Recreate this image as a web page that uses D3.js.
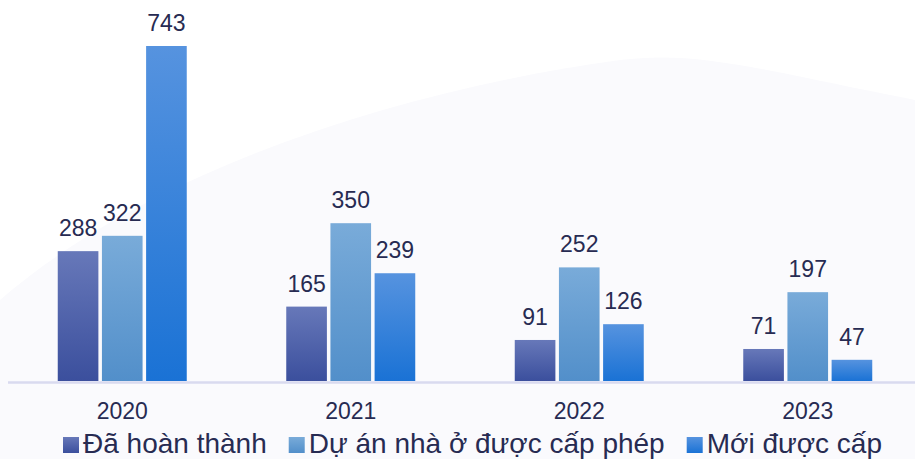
<!DOCTYPE html>
<html>
<head>
<meta charset="utf-8">
<script src="https://cdn.jsdelivr.net/npm/d3@7"></script>
<style>
  html, body { margin: 0; padding: 0; background: #ffffff; }
  svg { display: block; font-family: "Liberation Sans", Arial, sans-serif; }
</style>
</head>
<body>
<div id="chart"></div>
<script>
// Data
var years = ["2020", "2021", "2022", "2023"];
var seriesNames = ["Đã hoàn thành", "Dự án nhà ở được cấp phép", "Mới được cấp"];
var completed = [288, 165, 91, 71];
var licensed = [322, 350, 252, 197];
var newlyGranted = [743, 239, 126, 47];

var seriesValues = [completed, licensed, newlyGranted];

// Chart dimensions
var width = 915, height = 459;
var baseline = 381;
var textColor = "#272b52";

var svg = d3.select("#chart")
  .append("svg")
  .attr("width", width)
  .attr("height", height);

// Gradients for the three series (top -> bottom)
var gradColors = [
  ["#6778b9", "#3b4f9d"],
  ["#79abd9", "#528fca"],
  ["#5693df", "#1a72d5"]
];
var defs = svg.append("defs");
gradColors.forEach(function(c, i) {
  var g = defs.append("linearGradient")
    .attr("id", "grad" + i)
    .attr("x1", 0).attr("y1", 0).attr("x2", 0).attr("y2", 1);
  g.append("stop").attr("offset", "0%").attr("stop-color", c[0]);
  g.append("stop").attr("offset", "100%").attr("stop-color", c[1]);
});

// faint background shapes
svg.append("path")
  .attr("d", "M0,300 C150,170 400,90 620,60 C700,50 760,70 915,100 L915,459 L0,459 Z")
  .attr("fill", "#fafafd");

// Scales
var x = d3.scaleBand()
  .domain(years)
  .range([8, 922]);

var xInner = d3.scaleBand()
  .domain(d3.range(seriesNames.length))
  .range([49.75, 178.75])
  .paddingInner(0.08);

var y = d3.scaleLinear()
  .domain([0, 743])
  .range([baseline, 46]);

// Baseline axis line
svg.append("line")
  .attr("x1", 8).attr("x2", width)
  .attr("y1", baseline + 1.5).attr("y2", baseline + 1.5)
  .attr("stroke", "#d9daef")
  .attr("stroke-width", 2.5);

// Bars
var rows = [];
years.forEach(function(yr, i) {
  seriesValues.forEach(function(vals, s) {
    rows.push({year: yr, s: s, value: vals[i]});
  });
});

svg.append("g")
  .selectAll("rect")
  .data(rows)
  .join("rect")
    .attr("x", function(d) { return x(d.year) + xInner(d.s); })
    .attr("y", function(d) { return y(d.value); })
    .attr("width", xInner.bandwidth())
    .attr("height", function(d) { return baseline - y(d.value); })
    .attr("fill", function(d) { return "url(#grad" + d.s + ")"; });

// Value labels
svg.append("g")
  .selectAll("text")
  .data(rows)
  .join("text")
    .attr("x", function(d) { return x(d.year) + xInner(d.s) + xInner.bandwidth() / 2; })
    .attr("y", function(d) { return y(d.value) - 15; })
    .attr("text-anchor", "middle")
    .attr("font-size", 23)
    .attr("fill", textColor)
    .text(function(d) { return d.value; });

// X axis labels
var xAxis = d3.axisBottom(x).tickSize(0).tickPadding(0);
var gx = svg.append("g")
  .attr("transform", "translate(0," + 402 + ")")
  .call(xAxis);
gx.select(".domain").remove();
gx.selectAll("text")
  .attr("font-size", 23)
  .attr("fill", textColor)
  .attr("dy", "0.73em")
  .attr("font-family", "Liberation Sans, Arial, sans-serif");

// Legend
var legend = svg.append("g");
var lx = 63;
seriesNames.forEach(function(name, i) {
  var item = legend.append("g").attr("transform", "translate(" + lx + ",0)");
  item.append("rect")
    .attr("x", 0).attr("y", 437)
    .attr("width", 16).attr("height", 16)
    .attr("fill", "url(#grad" + i + ")");
  var t = item.append("text")
    .attr("x", 20).attr("y", 453)
    .attr("font-size", 28)
    .attr("fill", textColor)
    .text(name);
  lx += 20 + t.node().getComputedTextLength() + 22;
});
</script>
</body>
</html>
